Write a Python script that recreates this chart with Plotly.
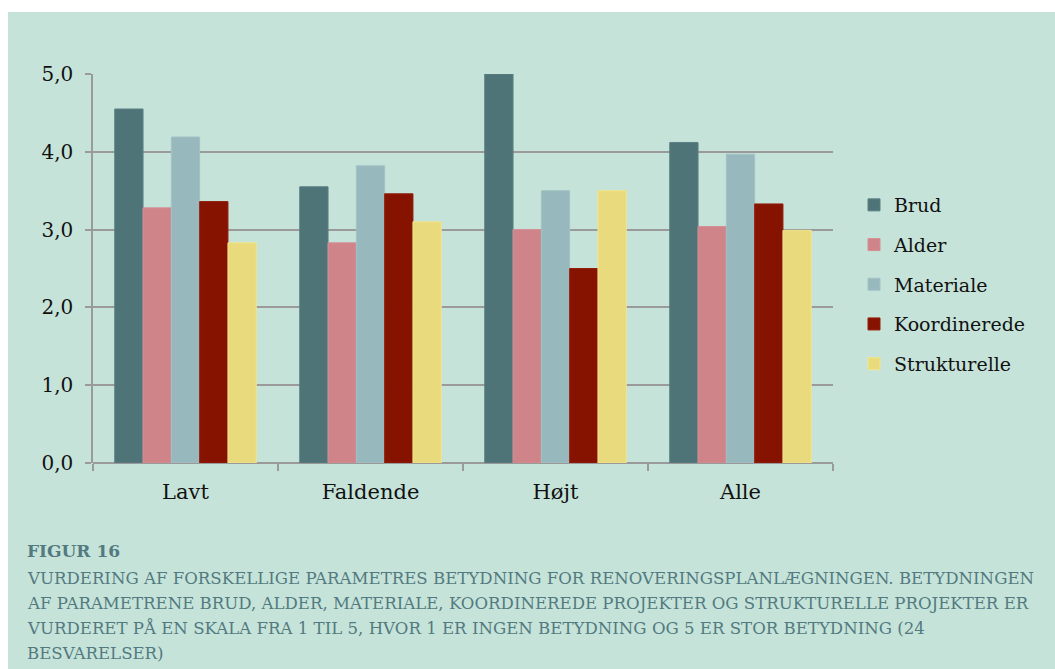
import plotly.graph_objects as go

# Survey ratings (scale 1-5) per municipality group
categories = ["Lavt", "Faldende", "Højt", "Alle"]
series_names = ["Brud", "Alder", "Materiale", "Koordinerede", "Strukturelle"]
brud = [4.55, 3.55, 5.0, 4.12]
alder = [3.28, 2.83, 3.0, 3.04]
materiale = [4.19, 3.82, 3.5, 3.97]
koordinerede = [3.36, 3.46, 2.5, 3.33]
strukturelle = [2.83, 3.10, 3.5, 2.99]

y_ticks = [0, 1, 2, 3, 4, 5]

caption_title = "FIGUR 16"
caption_lines = [
    "VURDERING AF FORSKELLIGE PARAMETRES BETYDNING FOR RENOVERINGSPLANLÆGNINGEN. BETYDNINGEN",
    "AF PARAMETRENE BRUD, ALDER, MATERIALE, KOORDINEREDE PROJEKTER OG STRUKTURELLE PROJEKTER ER",
    "VURDERET PÅ EN SKALA FRA 1 TIL 5, HVOR 1 ER INGEN BETYDNING OG 5 ER STOR BETYDNING (24",
    "BESVARELSER)",
]

values = [brud, alder, materiale, koordinerede, strukturelle]
fills = ["#4e7478", "#cf848a", "#97b8bc", "#861300", "#e8da7d"]
edges = ["#5a8085", "#d59096", "#a3c2c6", "#931f0c", "#f1e58c"]

FONT = "DejaVu Serif"
W, H = 1055, 669
L, R, T, B = 93, 222, 74, 206
PW, PH = W - L - R, H - T - B
MINT = "#c6e3d9"
CAPTION = "#527a80"
CAPTION_SIZE = 16.6


def px(x):
    return (x - L) / PW


def py(y):
    return (H - B - y) / PH


fig = go.Figure()
for name, vals, fc, lc in zip(series_names, values, fills, edges):
    fig.add_trace(go.Bar(
        name=name, x=categories, y=vals,
        marker=dict(color=fc, line=dict(color=lc, width=1)),
        legendgroup=name,
    ))

# mint panel behind everything, leaving a thin white margin top and left
fig.add_shape(type="rect", xref="paper", yref="paper",
              x0=px(8), x1=px(W + 5), y0=py(12), y1=py(H + 5),
              fillcolor=MINT, line=dict(width=0), layer="below")

fig.add_annotation(text="<b>" + caption_title + "</b>", xref="paper", yref="paper",
                   x=px(25), y=py(551), xanchor="left", yanchor="middle",
                   showarrow=False, font=dict(family=FONT, size=17, color=CAPTION))
for i, line in enumerate(caption_lines):
    fig.add_annotation(text=line, xref="paper", yref="paper",
                       x=px(25), y=py(578 + 25 * i), xanchor="left", yanchor="middle",
                       showarrow=False, font=dict(family=FONT, size=CAPTION_SIZE, color=CAPTION))

fig.update_layout(
    width=W, height=H,
    margin=dict(l=L, r=R, t=T, b=B),
    paper_bgcolor="white", plot_bgcolor="rgba(0,0,0,0)",
    separators=",.",
    barmode="group", bargap=0.235, bargroupgap=0,
    font=dict(family=FONT, size=20, color="#111111"),
    showlegend=True,
    legend=dict(x=px(854), y=py(186), xanchor="left", yanchor="top",
                bgcolor="rgba(0,0,0,0)", font=dict(family=FONT, size=19, color="#111111"),
                tracegroupgap=12, itemclick=False),
    xaxis=dict(type="category", tickson="boundaries", ticks="outside", ticklen=7,
               tickcolor="#9a9a9a", tickwidth=1.5, showgrid=False, showline=False,
               ticklabelstandoff=14,
               tickfont=dict(family=FONT, size=21, color="#111111")),
    yaxis=dict(range=[0, 5], tickvals=y_ticks, tickformat=".1f", ticks="outside",
               ticklen=6, tickcolor="#9a9a9a", tickwidth=1.5,
               showgrid=True, gridcolor="#9a9a9a", gridwidth=1.5,
               showline=True, linecolor="#9a9a9a", linewidth=1.5,
               zeroline=True, zerolinecolor="#9a9a9a", zerolinewidth=1.5,
               ticklabelstandoff=8,
               tickfont=dict(family=FONT, size=20, color="#111111")),
)

fig.write_html("out.html")
